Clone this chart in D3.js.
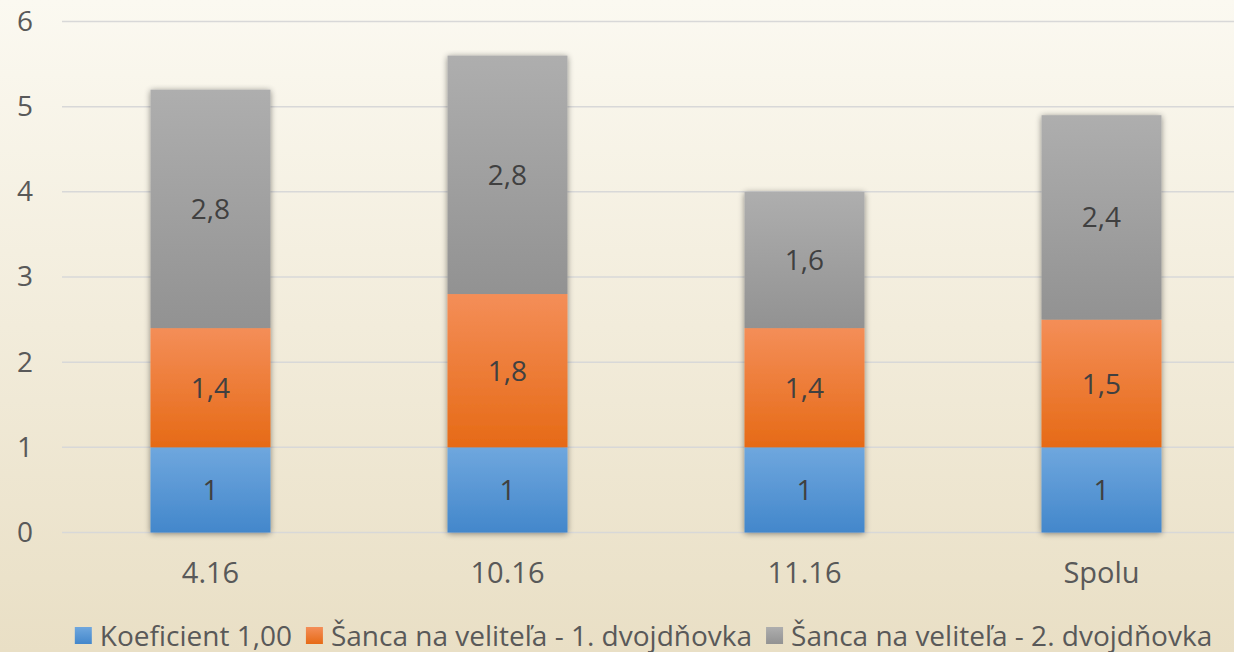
<!DOCTYPE html>
<html>
<head>
<meta charset="utf-8">
<script src="https://cdn.jsdelivr.net/npm/d3@7"></script>
<style>
  body { margin: 0; overflow: hidden; }
  text { font-family: "Open Sans", "Noto Sans", sans-serif; }
</style>
</head>
<body>
<div class="chart"></div>
<script>
const categories = ["4.16", "10.16", "11.16", "Spolu"];
const seriesNames = ["Koeficient 1,00", "Šanca na veliteľa - 1. dvojdňovka", "Šanca na veliteľa - 2. dvojdňovka"];
const koeficient = [1, 1, 1, 1];
const sanca1 = [1.4, 1.8, 1.4, 1.5];
const sanca2 = [2.8, 2.8, 1.6, 2.4];
const yTicks = [0, 1, 2, 3, 4, 5, 6];

const width = 1234, height = 652;
const colors = [
    ["#6fa7de", "#4387cb"],
    ["#f48e58", "#e66a16"],
    ["#aeaeae", "#929292"]
];

const data = categories.map((c, i) => ({cat: c, s0: koeficient[i], s1: sanca1[i], s2: sanca2[i]}));
const keys = ["s0", "s1", "s2"];
const series = d3.stack().keys(keys)(data);

const svg = d3.select(".chart").append("svg")
    .attr("width", width)
    .attr("height", height);

const defs = svg.append("defs");
const bg = defs.append("linearGradient").attr("id", "bg")
    .attr("x1", 0).attr("y1", 0).attr("x2", 0).attr("y2", 1);
bg.append("stop").attr("offset", "0%").attr("stop-color", "#fbf9f1");
bg.append("stop").attr("offset", "100%").attr("stop-color", "#e9dfc5");

colors.forEach((c, i) => {
    const g = defs.append("linearGradient").attr("id", "grad" + i)
        .attr("x1", 0).attr("y1", 0).attr("x2", 0).attr("y2", 1);
    g.append("stop").attr("offset", "0%").attr("stop-color", c[0]);
    g.append("stop").attr("offset", "100%").attr("stop-color", c[1]);
});

const shadow = defs.append("filter").attr("id", "shadow")
    .attr("x", "-20%").attr("y", "-10%").attr("width", "140%").attr("height", "120%");
shadow.append("feGaussianBlur").attr("in", "SourceAlpha").attr("stdDeviation", 3);
shadow.append("feOffset").attr("dx", 0).attr("dy", 1).attr("result", "blur");
shadow.append("feComponentTransfer").append("feFuncA").attr("type", "linear").attr("slope", 0.45);
const merge = shadow.append("feMerge");
merge.append("feMergeNode");
merge.append("feMergeNode").attr("in", "SourceGraphic");

svg.append("rect")
    .attr("width", width).attr("height", height)
    .attr("fill", "url(#bg)");

const xScale = d3.scaleBand()
    .domain(categories)
    .range([62, 1250])
    .paddingInner(0.596)
    .paddingOuter(0.298);

const yScale = d3.scaleLinear()
    .domain([0, 6])
    .range([532.5, 21.5]);

// gridlines
svg.append("g")
    .selectAll("line")
    .data(yTicks)
    .join("line")
    .attr("x1", 62).attr("x2", width)
    .attr("y1", d => yScale(d)).attr("y2", d => yScale(d))
    .attr("stroke", "#d8d8d8")
    .attr("stroke-width", 1.5);

// y axis labels
const yAxis = d3.axisLeft(yScale).tickValues(yTicks).tickFormat(d3.format("d")).tickSize(0).tickPadding(0);
svg.append("g")
    .attr("transform", "translate(33,0)")
    .call(yAxis)
    .call(g => g.select(".domain").remove())
    .selectAll("text")
    .attr("font-size", 28)
    .attr("fill", "#595959")
    .attr("font-family", "\"Open Sans\", sans-serif");

// bars
const barG = svg.append("g").attr("filter", "url(#shadow)");
series.forEach((s, si) => {
    barG.selectAll(".bar" + si)
        .data(s)
        .join("rect")
        .attr("class", "bar" + si)
        .attr("x", d => xScale(d.data.cat))
        .attr("width", xScale.bandwidth())
        .attr("y", d => yScale(d[1]))
        .attr("height", d => yScale(d[0]) - yScale(d[1]))
        .attr("fill", "url(#grad" + si + ")");
});

// data labels
const fmt = v => String(+v.toFixed(1)).replace(".", ",");
series.forEach((s, si) => {
    svg.append("g").selectAll("text")
        .data(s)
        .join("text")
        .attr("x", d => xScale(d.data.cat) + xScale.bandwidth() / 2)
        .attr("y", d => (yScale(d[0]) + yScale(d[1])) / 2)
        .attr("dy", "0.36em")
        .attr("text-anchor", "middle")
        .attr("font-size", 28)
        .attr("fill", "#404040")
        .text(d => fmt(d[1] - d[0]));
});

// x axis labels
const xAxis = d3.axisBottom(xScale).tickSize(0).tickPadding(0);
svg.append("g")
    .attr("transform", "translate(0,0)")
    .call(xAxis)
    .call(g => g.select(".domain").remove())
    .selectAll("text")
    .attr("y", 583)
    .attr("dy", 0)
    .attr("font-size", 29)
    .attr("fill", "#595959")
    .attr("font-family", "\"Open Sans\", sans-serif");

// legend
const legend = svg.append("g");
let lx = 0;
seriesNames.forEach((name, i) => {
    const item = legend.append("g");
    item.append("rect")
        .attr("x", lx).attr("y", 627)
        .attr("width", 17).attr("height", 17)
        .attr("fill", "url(#grad" + i + ")");
    const t = item.append("text")
        .attr("x", lx + 25).attr("y", 645.5)
        .attr("font-size", 28)
        .attr("fill", "#595959")
        .text(name);
    lx += 25 + t.node().getComputedTextLength() + 14;
});
const legendW = lx - 14;
legend.attr("transform", `translate(${643.5 - legendW / 2},0)`);
</script>
</body>
</html>
